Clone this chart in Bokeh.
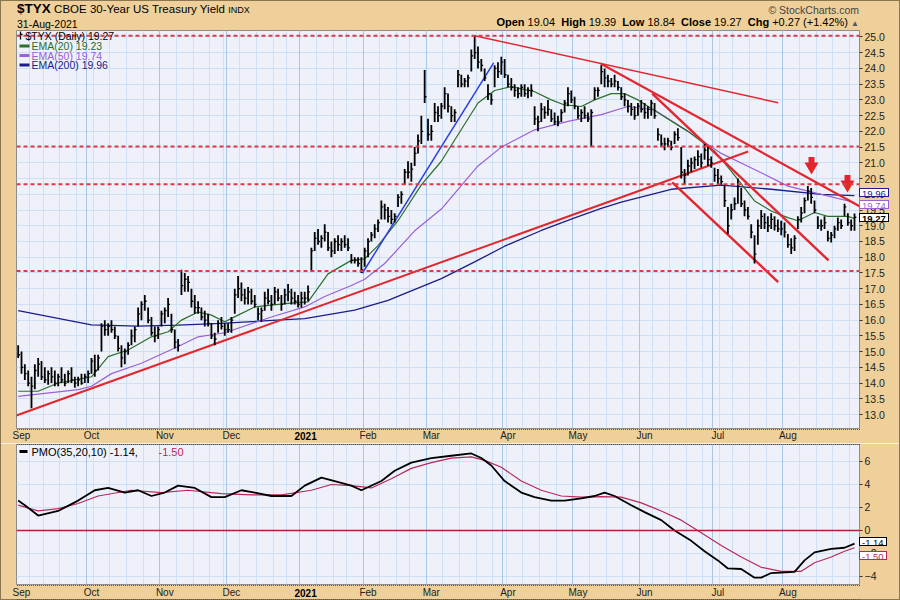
import pandas as pd
from bokeh.plotting import figure
from bokeh.models import (Range1d, FixedTicker, Label, Span, Grid, ColumnDataSource, Div, GridBox,
                          CustomJSTickFormatter)
from bokeh.embed import file_html
from bokeh.resources import INLINE

# ---------------- data ----------------
holidays = ["2020-09-07", "2020-11-26", "2020-12-25", "2021-01-01", "2021-01-18",
            "2021-02-15", "2021-04-02", "2021-05-31", "2021-07-05"]

high = [15.2, 15.0, 14.6, 14.4, 14.2, 14.6, 14.8, 14.7, 14.5, 14.4, 14.5, 14.4, 14.3, 14.5, 14.3, 14.4, 14.5, 14.2, 14.2, 14.3,
        14.3, 14.4, 14.8, 14.9, 14.9, 15.9, 16.0, 15.9, 16.0, 15.8, 15.5, 15.2, 15.1, 15.3, 15.7, 15.8, 16.4, 16.6, 16.8, 16.4,
        16.1, 15.8, 15.8, 16.3, 16.4, 16.7, 16.2, 15.7, 15.4, 17.6, 17.5, 17.4, 17.0, 16.8, 16.6, 16.4, 16.3, 16.2, 15.9, 15.6,
        16.0, 16.1, 15.9, 15.9, 16.1, 17.0, 17.4, 17.2, 17.0, 17.05, 17.0, 16.8, 16.4, 16.4, 16.9, 17.0, 16.8, 17.05, 17.0, 16.8,
        17.0, 17.15, 17.0, 16.9, 16.8, 16.9, 16.9, 17.1, 18.3, 18.8, 18.9, 18.7, 19.05, 18.8, 18.5, 18.6, 18.7, 18.6, 18.7, 18.6,
        18.1, 18.0, 18.0, 18.0, 18.3, 18.6, 18.8, 19.05, 19.2, 19.8, 19.7, 19.6, 19.5, 19.4, 20.0, 20.1, 20.8, 21.05, 21.0, 21.5,
        21.9, 22.5, 23.95, 22.4, 22.2, 22.9, 22.8, 22.9, 23.4, 23.2, 22.8, 22.7, 23.95, 23.8, 23.7, 23.8, 24.6, 25.05, 24.7, 24.3,
        24.0, 23.5, 23.2, 24.1, 24.2, 24.37, 24.3, 23.8, 23.7, 23.5, 23.4, 23.5, 23.5, 23.4, 23.5, 22.8, 22.5, 22.9, 22.8, 23.0,
        22.7, 22.6, 22.5, 22.7, 23.0, 23.4, 23.3, 23.1, 22.8, 22.7, 22.8, 22.6, 22.7, 23.4, 23.4, 24.1, 24.0, 23.8, 23.7, 23.8,
        23.6, 23.4, 23.2, 23.0, 22.9, 22.8, 22.9, 23.0, 22.9, 22.8, 23.0, 22.9, 22.1, 21.9, 21.8, 21.8, 21.7, 22.0, 22.1, 21.5,
        20.8, 21.1, 21.16, 21.2, 21.4, 21.3, 21.6, 21.5, 21.2, 20.84, 20.8, 20.6, 20.3, 19.6, 19.7, 19.9, 20.5, 20.2, 19.8, 19.6,
        19.05, 18.7, 19.2, 19.5, 19.4, 19.3, 19.4, 19.3, 19.2, 19.16, 19.1, 18.74, 18.6, 18.7, 19.3, 19.6, 19.9, 20.26, 20.2, 19.8,
        19.3, 19.2, 19.3, 18.84, 18.8, 19.0, 19.26, 19.2, 19.7, 19.4, 19.2, 19.39]
low = [14.8, 14.3, 14.1, 13.9, 13.2, 13.8, 14.2, 14.1, 14.0, 13.95, 14.0, 13.9, 13.9, 14.0, 13.9, 14.0, 14.0, 13.85, 13.9, 13.95,
       14.0, 14.0, 14.3, 14.2, 14.4, 15.0, 15.5, 15.5, 15.6, 15.4, 15.0, 14.5, 14.6, 14.9, 15.2, 15.3, 15.8, 16.0, 16.3, 15.9,
       15.5, 15.3, 15.4, 15.8, 15.9, 16.1, 15.6, 15.1, 15.0, 16.8, 16.9, 16.9, 16.4, 16.2, 16.2, 16.0, 15.8, 15.8, 15.4, 15.2,
       15.6, 15.7, 15.5, 15.6, 15.6, 16.2, 16.7, 16.6, 16.5, 16.5, 16.5, 16.4, 16.0, 15.95, 16.3, 16.5, 16.3, 16.5, 16.6, 16.3,
       16.5, 16.6, 16.5, 16.5, 16.4, 16.4, 16.5, 16.6, 17.55, 18.2, 18.4, 18.3, 18.5, 18.2, 18.0, 18.1, 18.2, 18.2, 18.3, 18.2,
       17.8, 17.8, 17.7, 17.5, 17.7, 18.0, 18.5, 18.6, 18.8, 19.2, 19.2, 19.1, 19.05, 19.1, 19.6, 19.7, 20.3, 20.5, 20.4, 20.9,
       21.3, 21.6, 22.9, 21.7, 21.7, 22.3, 22.3, 22.4, 22.7, 22.6, 22.3, 22.3, 23.4, 23.4, 23.4, 23.4, 23.9, 24.3, 24.0, 23.9,
       23.6, 23.0, 22.85, 23.4, 23.7, 23.8, 23.7, 23.4, 23.3, 23.1, 23.05, 23.1, 23.1, 23.05, 23.1, 22.2, 22.0, 22.3, 22.4, 22.5,
       22.3, 22.2, 22.16, 22.3, 22.6, 22.8, 22.9, 22.7, 22.4, 22.3, 22.4, 22.3, 21.5, 23.0, 23.1, 23.5, 23.4, 23.4, 23.4, 23.4,
       23.3, 23.0, 22.8, 22.6, 22.5, 22.37, 22.5, 22.6, 22.4, 22.4, 22.5, 22.4, 21.7, 21.5, 21.4, 21.5, 21.4, 21.6, 21.7, 20.5,
       20.3, 20.6, 20.7, 20.8, 20.9, 20.85, 21.1, 20.9, 20.84, 20.4, 20.3, 20.3, 19.6, 18.74, 19.2, 19.5, 19.7, 19.6, 19.3, 19.2,
       18.6, 17.8, 18.4, 18.9, 18.9, 18.8, 18.9, 18.85, 18.8, 18.7, 18.63, 18.3, 18.1, 18.2, 18.9, 19.1, 19.4, 19.8, 19.7, 19.4,
       18.9, 18.84, 18.9, 18.5, 18.47, 18.6, 18.84, 18.9, 19.3, 19.0, 18.84, 18.84]
close = [14.9, 14.5, 14.3, 14.0, 13.9, 14.4, 14.6, 14.2, 14.1, 14.3, 14.2, 14.0, 14.2, 14.1, 14.0, 14.3, 14.1, 14.0, 14.1, 14.0,
         14.2, 14.3, 14.7, 14.4, 14.8, 15.8, 15.7, 15.8, 15.7, 15.5, 15.1, 14.8, 15.0, 15.2, 15.5, 15.7, 16.2, 16.5, 16.6, 16.0,
         15.6, 15.5, 15.7, 16.2, 16.3, 16.5, 15.7, 15.3, 15.2, 17.1, 17.3, 17.2, 16.6, 16.4, 16.4, 16.1, 16.0, 15.9, 15.5, 15.4,
         15.9, 15.8, 15.7, 15.7, 16.0, 16.8, 17.0, 16.8, 16.7, 16.9, 16.6, 16.5, 16.2, 16.3, 16.7, 16.6, 16.5, 16.9, 16.7, 16.5,
         16.8, 16.9, 16.7, 16.6, 16.5, 16.7, 16.7, 16.9, 18.2, 18.6, 18.5, 18.6, 18.8, 18.3, 18.2, 18.5, 18.4, 18.5, 18.4, 18.3,
         17.9, 17.9, 17.8, 17.6, 18.2, 18.5, 18.7, 18.9, 19.1, 19.6, 19.5, 19.3, 19.2, 19.3, 19.9, 20.0, 20.7, 20.7, 20.8, 21.3,
         21.7, 22.0, 23.1, 21.9, 22.0, 22.6, 22.5, 22.8, 23.2, 22.8, 22.5, 22.6, 23.8, 23.5, 23.6, 23.7, 24.4, 24.5, 24.2, 24.1,
         23.7, 23.2, 23.0, 24.0, 23.9, 24.2, 23.8, 23.5, 23.4, 23.3, 23.2, 23.4, 23.2, 23.3, 23.3, 22.4, 22.3, 22.7, 22.6, 22.7,
         22.4, 22.3, 22.3, 22.6, 22.9, 23.2, 23.0, 22.8, 22.5, 22.6, 22.5, 22.4, 22.6, 23.3, 23.3, 23.9, 23.7, 23.6, 23.5, 23.6,
         23.4, 23.1, 23.0, 22.8, 22.7, 22.5, 22.8, 22.7, 22.6, 22.7, 22.9, 22.5, 21.9, 21.6, 21.6, 21.7, 21.5, 21.9, 21.8, 20.7,
         20.6, 20.9, 21.0, 21.1, 21.2, 21.0, 21.4, 21.1, 21.0, 20.6, 20.5, 20.4, 19.8, 19.0, 19.5, 19.7, 20.3, 19.7, 19.5, 19.3,
         18.8, 18.1, 19.0, 19.3, 19.1, 19.0, 19.2, 19.0, 18.9, 18.9, 18.8, 18.4, 18.3, 18.6, 19.2, 19.4, 19.8, 20.1, 19.9, 19.5,
         19.0, 19.0, 19.1, 18.6, 18.7, 18.9, 19.1, 19.0, 19.6, 19.1, 19.0, 19.27]

ema20_x = [0, 6, 12, 22, 27, 33, 40, 45, 49, 54, 58, 62, 66, 71, 81, 87, 93, 100, 104, 108, 114, 121, 127, 138, 143,
           148, 155, 160, 164, 169, 173, 178, 182, 186, 193, 201, 209, 214, 221, 226, 231, 234, 239, 243, 249, 251]
ema20_y = [13.74, 13.74, 14.0, 14.2, 14.84, 15.05, 15.47, 15.63, 16.0, 16.26, 16.16, 15.95, 16.16, 16.42, 16.53, 16.58,
           17.47, 17.9, 17.95, 18.37, 19.16, 20.3, 21.05, 22.9, 23.3, 23.42, 23.26, 23.0, 22.84, 22.79, 23.0, 23.2, 23.2,
           23.0, 22.53, 22.0, 21.37, 20.74, 19.79, 19.47, 19.26, 19.16, 19.42, 19.3, 19.3, 19.23]
ema50_x = [0, 18, 22, 28, 37, 48, 54, 62, 76, 86, 92, 100, 104, 110, 119, 127, 138, 145, 155, 165, 175, 183, 191, 201,
           211, 221, 231, 241, 251]
ema50_y = [13.58, 13.79, 13.9, 14.3, 14.63, 15.16, 15.47, 15.6, 16.1, 16.42, 16.75, 17.1, 17.3, 17.8, 18.84, 19.53, 20.9,
           21.5, 22.05, 22.32, 22.53, 22.79, 22.68, 22.0, 21.3, 20.79, 20.26, 20.0, 19.74]
ema200_x = [0, 22, 36, 48, 61, 86, 101, 111, 127, 137, 146, 157, 167, 175, 181, 196, 211, 226, 241, 251]
ema200_y = [16.3, 15.85, 15.81, 15.84, 15.9, 16.05, 16.32, 16.63, 17.32, 17.85, 18.35, 18.85, 19.25, 19.55, 19.75, 20.16,
            20.29, 20.16, 20.0, 19.96]

pmo_x = [0, 2, 6, 12, 18, 23, 27, 32, 36, 40, 44, 48, 53, 58, 62, 67, 71, 76, 82, 86, 91, 95, 100, 103, 109, 113, 118,
         124, 130, 136, 139, 142, 146, 151, 155, 160, 164, 169, 173, 176, 179, 184, 188, 193, 197, 202, 206, 210, 213,
         217, 221, 223, 226, 233, 236, 239, 244, 248, 251]
pmo_y = [2.6, 2.2, 1.3, 1.7, 2.6, 3.5, 3.7, 3.3, 3.5, 3.0, 3.3, 3.9, 3.7, 2.9, 2.9, 3.5, 3.3, 3.0, 3.0, 3.9, 4.6, 4.3, 3.9,
         3.5, 4.3, 5.2, 5.9, 6.3, 6.5, 6.7, 6.3, 5.65, 4.3, 3.3, 2.9, 2.6, 2.6, 2.8, 3.0, 3.3, 3.0, 2.2, 1.6, 0.9, 0.0,
         -0.9, -1.8, -2.6, -3.3, -3.35, -4.1, -4.1, -3.7, -3.6, -2.6, -1.9, -1.6, -1.5, -1.14]
sig_x = [0, 6, 12, 18, 24, 34, 43, 51, 61, 70, 79, 88, 94, 100, 106, 112, 118, 124, 130, 136, 140, 145, 151, 157, 163,
         169, 175, 181, 187, 193, 199, 205, 211, 217, 223, 229, 235, 239, 244, 248, 251]
sig_y = [2.2, 1.7, 1.9, 2.35, 3.0, 3.5, 3.3, 3.5, 3.2, 3.1, 3.1, 3.5, 4.0, 3.9, 3.7, 4.5, 5.4, 5.9, 6.3, 6.4, 6.1, 5.5,
         4.3, 3.5, 3.0, 2.9, 2.95, 2.9, 2.4, 1.7, 0.9, -0.2, -1.3, -2.3, -3.2, -3.55, -3.55, -2.8, -2.3, -1.8, -1.5]

# chart annotations (support / resistance lines drawn on the reference)
hlines = [25.04, 21.52, 20.32, 17.56]
red_x0 = [-2.6, 137.0, 174.9, 190.3, 196.3]
red_y0 = [12.89, 25.04, 24.15, 23.2, 20.38]
red_x1 = [219.1, 228.1, 252.5, 243.2, 228.1]
red_y1 = [21.36, 22.91, 19.62, 17.9, 17.21]
red_w = [2, 1.5, 2.2, 2.4, 2.4]
blue_x = [103.3, 142.7]
blue_y = [17.49, 24.18]
arrow_x = [238.1, 248.9]
arrow_tip = [20.66, 20.09]

month_labels = ["Sep", "Oct", "Nov", "Dec", "2021", "Feb", "Mar", "Apr", "May", "Jun", "Jul", "Aug"]
price_ticks = [13.0, 13.5, 14.0, 14.5, 15.0, 15.5, 16.0, 16.5, 17.0, 17.5, 18.0, 18.5, 19.0, 19.5, 20.0,
               20.5, 21.0, 21.5, 22.0, 22.5, 23.0, 23.5, 24.0, 24.5, 25.0]
pmo_ticks = [-4, -2, 0, 2, 4, 6]
# last-value tags: text, value, colour, bold, pixel nudge (to keep the boxes from covering each other)
last_tags = [("19.96", 19.96, "#1c1c8c", False, -3), ("19.74", 19.74, "#9b5fd8", False, 2),
             ("19.27", 19.27, "#000000", True, 1)]
pmo_tags = [("-1.50", -1.50, "#b8285a", False, 8), ("-1.14", -1.14, "#000000", False, -2)]

# ---------------- styling / geometry ----------------
TAN = "#efd09a"
PLOT_BG = "#eef1f9"
GRID = "#cfe0f2"
GRID_M = "#a8c6e6"
RED = "#e3262e"
DASH_RED = "#dc3a4a"
GREEN = "#2c6e2c"
PURPLE = "#9b5fd8"
NAVY = "#1c1c8c"
SIGRED = "#b8285a"
FONT = "Liberation Sans"

hol = set(pd.to_datetime(holidays))
dates = [d for d in pd.bdate_range("2020-09-01", "2021-08-31") if d not in hol]
N = len(dates)
idx = list(range(N))
month_idx = [i for i in idx if i == 0 or dates[i].month != dates[i - 1].month]
week_idx = [i for i in idx if i == 0 or dates[i].weekday() < dates[i - 1].weekday()]

LEFT, FW, RIGHT = 16, 843, 41
TOP1, FH1, BOT1 = 30, 398, 15
TOP2, FH2, BOT2 = 1, 140, 16
X0, X1 = -0.5, N + 0.5
XS = FW / (X1 - X0)
Y0, Y1 = 12.556, 25.206
YS = FH1 / (Y1 - Y0)
P0, P1 = -4.696, 7.478
PS = FH2 / (P1 - P0)
F2TOP = TOP1 + FH1 + BOT1 + TOP2
W = LEFT + FW + RIGHT
H = F2TOP + FH2 + BOT2


def dx(px):
    return X0 + (px - LEFT) / XS


def dy(py):
    return Y1 - (py - TOP1) / YS


def dy2(py):
    return P1 - (py - F2TOP) / PS


def sx(x):
    return LEFT + (x - X0) * XS


def sy(v):
    return TOP1 + (Y1 - v) * YS


def sy2(v):
    return F2TOP + (P1 - v) * PS


def style(fig, grid_ticks, standoff):
    fig.background_fill_color = PLOT_BG
    fig.border_fill_color = TAN
    fig.outline_line_color = "#8c8c8c"
    fig.xgrid.ticker = FixedTicker(ticks=[i - 0.5 for i in week_idx])
    fig.xgrid.grid_line_color = GRID
    fig.ygrid.ticker = FixedTicker(ticks=grid_ticks)
    fig.ygrid.grid_line_color = GRID
    fig.add_layout(Grid(dimension=0, ticker=FixedTicker(ticks=[i - 0.5 for i in month_idx]),
                        grid_line_color=GRID_M))
    ya = fig.yaxis[0]
    ya.axis_line_color = None
    ya.major_tick_out = 3
    ya.major_tick_in = 0
    ya.minor_tick_line_color = None
    ya.major_tick_line_color = "#333333"
    ya.major_label_standoff = 2
    ya.major_label_text_font = FONT
    ya.major_label_text_font_size = "10.5px"
    ya.major_label_text_color = "#222222"
    xa = fig.xaxis[0]
    xa.ticker = FixedTicker(ticks=[i + 1.0 for i in month_idx])
    xa.major_label_overrides = {i + 1.0: ("" if m == "2021" else m) for m, i in zip(month_labels, month_idx)}
    xa.axis_line_color = None
    xa.major_tick_line_color = None
    xa.minor_tick_line_color = None
    xa.major_tick_out = 0
    xa.major_tick_in = 0
    xa.major_label_standoff = standoff
    xa.major_label_text_font = FONT
    xa.major_label_text_font_size = "10px"
    xa.major_label_text_color = "#222222"


def lab(fig, x, y, text, size="10.5px", color="black", bold=False, align="left"):
    fig.add_layout(Label(x=x, y=y, text=text, text_font=FONT, text_font_size=size, text_color=color,
                         text_font_style="bold" if bold else "normal", text_align=align,
                         text_baseline="middle"))


# ---------------- main price panel ----------------
p = figure(width=W, height=TOP1 + FH1 + BOT1, x_range=Range1d(X0, X1), y_range=Range1d(Y0, Y1),
           y_axis_location="right", output_backend="svg", toolbar_location=None,
           min_border_left=LEFT, min_border_right=RIGHT, min_border_top=TOP1, min_border_bottom=BOT1)
style(p, price_ticks, 1)
p.yaxis.ticker = FixedTicker(ticks=price_ticks)
p.yaxis.formatter = CustomJSTickFormatter(code="return tick.toFixed(1);")

for h in hlines:
    p.add_layout(Span(location=h, dimension="width", line_color=DASH_RED, line_width=2, line_dash="4 3"))

p.line(ema200_x, ema200_y, line_color=NAVY, line_width=1.3)
p.line(ema50_x, ema50_y, line_color=PURPLE, line_width=1.2)
p.line(ema20_x, ema20_y, line_color=GREEN, line_width=1.2)

p.segment(x0=red_x0, y0=red_y0, x1=red_x1, y1=red_y1, line_color=RED, line_width=red_w)
p.line(blue_x, blue_y, line_color="#2a3ee6", line_width=1.5)

src = ColumnDataSource(dict(x=idx, xr=[i + 0.55 for i in idx], h=high, l=low, c=close))
p.segment(x0="x", y0="l", x1="x", y1="h", source=src, line_color="black", line_width=1.8)
p.segment(x0="x", y0="c", x1="xr", y1="c", source=src, line_color="black", line_width=1.3)

p.rect(x=arrow_x, y=[t + 12 / YS for t in arrow_tip], width=6, height=9, width_units="screen",
       height_units="screen", fill_color=RED, line_color=None)
p.scatter(x=arrow_x, y=[t + 7 / YS for t in arrow_tip], marker="inverted_triangle", size=14,
          fill_color=RED, line_color=None)

# legend (inside the frame)
p.segment(x0=[dx(20), dx(18), dx(20)], y0=[dy(31), dy(35), dy(34)], x1=[dx(20), dx(20), dx(22)],
          y1=[dy(39), dy(35), dy(34)], line_color="black", line_width=1.3)
lab(p, dx(25), dy(35), "$TYX (Daily) 19.27")
p.segment(x0=[dx(19)] * 3, y0=[dy(45.5), dy(55), dy(64.5)], x1=[dx(29)] * 3, y1=[dy(45.5), dy(55), dy(64.5)],
          line_color=[GREEN, PURPLE, NAVY], line_width=3)
lab(p, dx(31), dy(45.5), "EMA(20) 19.23", color=GREEN)
lab(p, dx(31), dy(55), "EMA(50) 19.74", color=PURPLE)
lab(p, dx(31), dy(64.5), "EMA(200) 19.96", color=NAVY)

# ---------------- PMO panel ----------------
q = figure(width=W, height=TOP2 + FH2 + BOT2, x_range=p.x_range, y_range=Range1d(P0, P1),
           y_axis_location="right", output_backend="svg", toolbar_location=None,
           min_border_left=LEFT, min_border_right=RIGHT, min_border_top=TOP2, min_border_bottom=BOT2)
style(q, pmo_ticks, 2)
q.yaxis.ticker = FixedTicker(ticks=pmo_ticks)
q.add_layout(Span(location=0, dimension="width", line_color="#b0203a", line_width=1.3))
q.line(sig_x, sig_y, line_color=SIGRED, line_width=1.2)
q.line(pmo_x, pmo_y, line_color="black", line_width=1.8)

q.segment(x0=[dx(19)], y0=[dy2(451)], x1=[dx(27)], y1=[dy2(451)], line_color="black", line_width=3)
lab(q, dx(31), dy2(451), "PMO(35,20,10) -1.14,", size="11px")
lab(q, dx(158), dy2(451), "-1.50", size="11px", color=SIGRED)

# ---------------- overlay texts outside the plot frames ----------------
jan = month_idx[month_labels.index("2021")]
parts = []
parts.append('<div style="position:absolute;left:16px;top:1px;line-height:14px;white-space:nowrap;color:#000">'
             '<b style="font-size:13.5px">$TYX</b>&nbsp;<span style="font-size:11.5px">CBOE 30-Year US Treasury Yield</span>'
             '&nbsp;<span style="font-size:9px">INDX</span></div>')
parts.append('<div style="position:absolute;left:16px;top:17px;line-height:12px;font-size:10.5px;white-space:nowrap">'
             '31-Aug-2021</div>')
parts.append('<div style="position:absolute;left:0px;width:858px;text-align:right;top:3px;line-height:12px;'
             'font-size:10.5px;color:#444;white-space:nowrap">&copy; StockCharts.com</div>')
parts.append('<div style="position:absolute;left:0px;width:858px;text-align:right;top:15px;line-height:13px;'
             'font-size:11px;white-space:nowrap">'
             '<b>Open</b> 19.04 &nbsp;<b>High</b> 19.39 &nbsp;<b>Low</b> 18.84 &nbsp;<b>Close</b> 19.27 &nbsp;'
             '<b>Chg</b> +0.27 (+1.42%) <span style="font-size:8px;color:#555">&#9650;</span></div>')
# dotted borders of the two date strips
for ytop, hgt in [(TOP1 + FH1, BOT1 + TOP2), (F2TOP + FH2, BOT2 - 1)]:
    parts.append(f'<div style="position:absolute;left:{LEFT}px;top:{ytop}px;width:{FW}px;height:{hgt}px;'
                 f'box-sizing:border-box;border-top:1px dotted #555;border-bottom:1px dotted #555"></div>')
for ytop in [TOP1 + FH1 + 1.5, F2TOP + FH2 + 2.5]:
    parts.append(f'<div style="position:absolute;left:{sx(jan + 1.1) - 20:.1f}px;width:40px;text-align:center;'
                 f'top:{ytop:.1f}px;line-height:11px;font-size:10px;font-weight:bold">2021</div>')
for t, v, col, bold, nud in last_tags:
    parts.append(f'<div style="position:absolute;left:{LEFT + FW - 1}px;top:{sy(v) - 5.5 + nud:.1f}px;height:9px;'
                 f'line-height:9px;font-size:9.5px;padding:0 2px;border:{1.5 if bold else 1}px solid {col};'
                 f'background:#fff;color:{col};font-weight:{"bold" if bold else "normal"};white-space:nowrap">{t}</div>')
for t, v, col, bold, nud in pmo_tags:
    parts.append(f'<div style="position:absolute;left:{LEFT + FW - 1}px;top:{sy2(v) - 5.5 + nud:.1f}px;height:9px;'
                 f'line-height:9px;font-size:9.5px;padding:0 2px;border:1px solid {col};'
                 f'background:#fff;color:{col};white-space:nowrap">{t}</div>')
overlay = Div(text=f'<div style="position:relative;width:{W}px;height:{H}px;pointer-events:none;box-sizing:border-box;'
                   f'border:1px solid #8a7650;font-family:\'Liberation Sans\',Arial,sans-serif">'
                   + "".join(parts) + '</div>',
              width=W, height=H, margin=0, styles={"pointer-events": "none"})

layout = GridBox(children=[(p, 0, 0), (q, 1, 0), (overlay, 0, 0, 2, 1)], spacing=0)
open("out.html", "w").write(file_html(layout, INLINE))
